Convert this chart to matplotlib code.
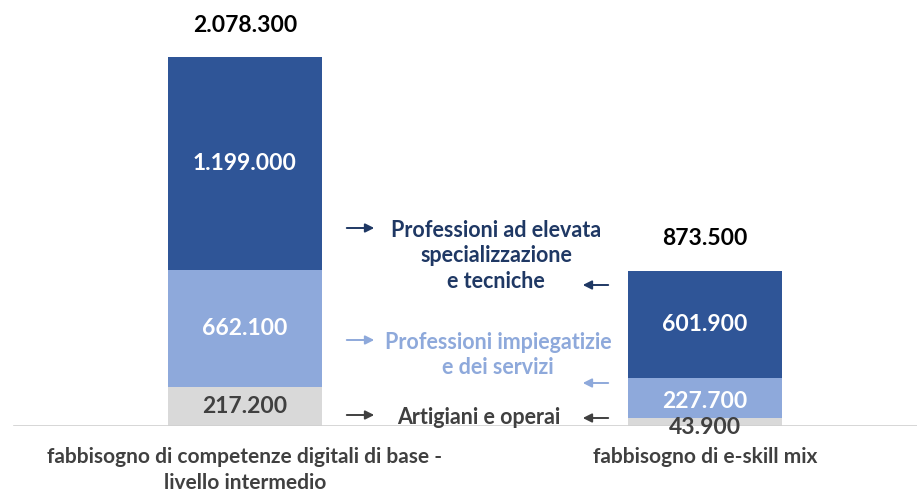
import matplotlib.pyplot as plt

plt.rcParams['font.family'] = ['Lato', 'DejaVu Sans']

categories = ['fabbisogno di competenze digitali di base -\nlivello intermedio',
              'fabbisogno di e-skill mix']
artigiani = [217200, 43900]
impiegatizie = [662100, 227700]
elevate = [1199000, 601900]
totals = [2078300, 873500]

group_names = ['Professioni ad elevata\nspecializzazione\ne tecniche',
               'Professioni impiegatizie\ne dei servizi',
               'Artigiani e operai']

def fmt(v):
    return f'{v:,}'.replace(',', '.')

dark = '#2F5597'
light = '#8EA9DB'
grey = '#D9D9D9'

fig = plt.figure(figsize=(9.17, 4.91), dpi=100)
# axes bottom sits on the baseline, x scale: 460 px per category
ax = fig.add_axes([0, 65 / 491, 1, 1 - 65 / 491])
px = 2078300 / 369  # value per pixel
ax.set_ylim(0, 426 * px)
ax.set_xlim(-245 / 460, 672 / 460)

x = [0, 1]
w = 154 / 460
ax.bar(x, artigiani, w, color=grey)
ax.bar(x, impiegatizie, w, bottom=artigiani, color=light)
bottom2 = [a + b for a, b in zip(artigiani, impiegatizie)]
ax.bar(x, elevate, w, bottom=bottom2, color=dark)

font_val = dict(fontsize=16.5, fontweight='bold', ha='center', va='center')
for i in x:
    ax.text(i, bottom2[i] + elevate[i] / 2, fmt(elevate[i]), color='white', **font_val)
    ax.text(i, totals[i] + 32 * px, fmt(totals[i]), color='black', **font_val)
ax.text(0, artigiani[0] / 2, fmt(artigiani[0]), color='#404040', **font_val)
ax.text(0, artigiani[0] + impiegatizie[0] / 2, fmt(impiegatizie[0]), color='white', **font_val)
ax.text(1, artigiani[1] + impiegatizie[1] / 2 - 4 * px, fmt(impiegatizie[1]), color='white', **font_val)
ax.text(1, -1 * px, fmt(artigiani[1]), color='#404040', **font_val)

# baseline
ax.axhline(0, xmin=14 / 917, xmax=1, color='#D0D0D0', lw=1.2)

# category labels
for i, lab in zip(x, categories):
    ax.text(i, -21 * px, lab, ha='center', va='top', fontsize=15,
            fontweight='bold', color='#404040', linespacing=1.35, clip_on=False)

# middle legend texts with arrows
def y_of(py):
    return (426 - py) * px

def xd(pxl):
    return (pxl - 245) / 460

legend_colors = ['#1F3864', light, '#404040']
text_pos = [(496, 256), (498, 355), (479, 417)]
arrows_r = [228, 340, 415]
arrows_l = [285, 383, 418]
for name, col, (tx, ty), ar, al in zip(group_names, legend_colors, text_pos, arrows_r, arrows_l):
    ax.text(xd(tx), y_of(ty), name, color=col, ha='center', va='center',
            fontsize=15.5, fontweight='bold', linespacing=1.27)
    ax.annotate('', xy=(xd(377), y_of(ar)), xytext=(xd(344), y_of(ar)),
                arrowprops=dict(arrowstyle='-|>', color=col, lw=1.4, mutation_scale=13))
    ax.annotate('', xy=(xd(580), y_of(al)), xytext=(xd(611), y_of(al)),
                arrowprops=dict(arrowstyle='-|>', color=col, lw=1.4, mutation_scale=13))

ax.axis('off')
fig.savefig('out.png', dpi=100)
